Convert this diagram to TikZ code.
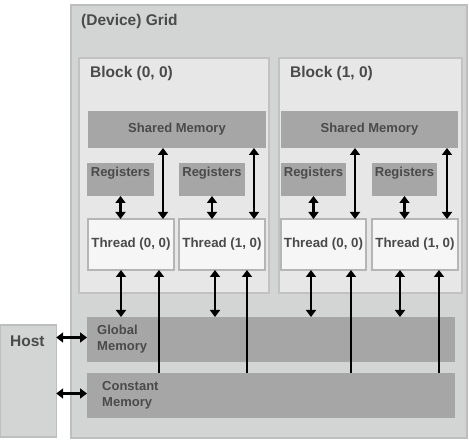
\documentclass[tikz,border=0pt]{standalone}
\usepackage{fontspec}
\setmainfont{Liberation Sans}
\usetikzlibrary{arrows.meta,calc}
\definecolor{gridfill}{HTML}{D3D5D5}
\definecolor{gridline}{HTML}{BDBFBF}
\definecolor{blockfill}{HTML}{E7E7E7}
\definecolor{blockline}{HTML}{C2C2C2}
\definecolor{memfill}{HTML}{A6A6A6}
\definecolor{thfill}{HTML}{F6F6F6}
\definecolor{thline}{HTML}{B5B5B5}
\definecolor{txt}{HTML}{4A4A4A}
\begin{document}
\begin{tikzpicture}[x=1pt,y=-1pt,
  box/.style={anchor=north west, inner sep=0pt, outer sep=0pt, line width=1.3pt},
  gridbox/.style={box, draw=gridline, fill=gridfill},
  blockbox/.style={box, draw=blockline, fill=blockfill},
  membox/.style={box, fill=memfill, text=txt, font=\bfseries\fontsize{13}{15}\selectfont},
  thbox/.style={box, draw=thline, fill=thfill, text=txt, font=\bfseries\fontsize{13.3}{15}\selectfont},
  big/.style={text=txt, font=\bfseries\fontsize{15.5}{18}\selectfont, inner sep=0pt},
  small/.style={text=txt, font=\bfseries\fontsize{13}{15}\selectfont, inner sep=0pt, align=left},
  dbl/.style={line width=2.6pt, {Triangle[width=10pt,length=7pt]}-{Triangle[width=10pt,length=7pt]}},
  up/.style={line width=2.6pt, -{Triangle[width=10pt,length=7pt]}}]
\useasboundingbox (0,0) rectangle (469,446);

% grid
\node[gridbox, minimum width=396pt, minimum height=433pt] (grid) at (71,5) {};
\node[big, anchor=west] (gridlbl) at (81,21) {(Device) Grid};

% blocks
\node[blockbox, minimum width=190pt, minimum height=235pt] (b0) at (79,58) {};
\node[blockbox, minimum width=183pt, minimum height=235pt] (b1) at (279,58) {};
\node[big, anchor=west] (b0lbl) at (90,73) {Block (0, 0)};
\node[big, anchor=west] (b1lbl) at (290,73) {Block (1, 0)};

% shared memory
\node[membox, minimum width=178pt, minimum height=37pt] (sm0) at (88,111) {};
\node[membox, minimum width=177pt, minimum height=37pt] (sm1) at (281,111) {};
\node[small, anchor=center] at ($(sm0.center)+(0,0)$) {Shared Memory};
\node[small, anchor=center] at ($(sm1.center)+(0,0)$) {Shared Memory};

% registers
\node[membox, minimum width=67pt, minimum height=33pt] (r00) at (87,163) {};
\node[membox, minimum width=66pt, minimum height=33pt] (r01) at (179,163) {};
\node[membox, minimum width=65pt, minimum height=33pt] (r10) at (281,163) {};
\node[membox, minimum width=65pt, minimum height=33pt] (r11) at (372,163) {};
\foreach \r in {r00,r01,r10,r11}
  \node[small, anchor=center] at ($(\r.north)+(0,10)$) {Registers};

% threads
\node[thbox, minimum width=86pt, minimum height=51pt] (t00) at (88,219) {Thread (0, 0)};
\node[thbox, minimum width=86pt, minimum height=51pt] (t01) at (179,219) {Thread (1, 0)};
\node[thbox, minimum width=85pt, minimum height=51pt] (t10) at (281,219) {Thread (0, 0)};
\node[thbox, minimum width=86pt, minimum height=51pt] (t11) at (372,219) {Thread (1, 0)};

% global / constant memory
\node[membox, minimum width=368pt, minimum height=45pt] (gm) at (87,317) {};
\node[membox, minimum width=368pt, minimum height=45pt] (cm) at (87,373) {};
\node[small, anchor=north west, align=left] (gmlbl) at (97,325) {Global\\[1pt]Memory};
\node[small, anchor=north west, align=left] (cmlbl) at (102,381) {Constant\\[1pt]Memory};

% host
\node[box, draw=gridline, fill=gridfill, minimum width=55.5pt, minimum height=112pt] (host) at (0.7,325) {};
\node[big, anchor=west] (hostlbl) at (10,341) {Host};

% registers <-> threads
\foreach \r/\t in {r00/t00,r01/t01,r10/t10,r11/t11}
  \draw[dbl] (\r.south) -- (\r.south |- \t.north);

% shared memory <-> threads
\foreach \s/\t in {sm0/t00,sm0/t01,sm1/t10,sm1/t11}
  \draw[dbl] ([xshift=-11pt]\t.north east |- \s.south) -- ([xshift=-11pt]\t.north east);

% threads <-> global memory
\foreach \t/\o in {t00/33,t01/36,t10/30,t11/28}
  \draw[dbl] ([xshift=\o pt]\t.south west) -- ([xshift=\o pt]\t.south west |- gm.north);

% constant memory -> threads
\foreach \t/\o in {t00/15,t01/18,t10/15,t11/19}
  \draw[up] ([xshift=-\o pt]\t.south east |- cm.north) -- ([xshift=-\o pt]\t.south east);

% host <-> memories
\draw[dbl] ([yshift=2pt]host.east |- gm.west) -- ([yshift=2pt]gm.west);
\draw[dbl] ([yshift=2pt]host.east |- cm.west) -- ([yshift=2pt]cm.west);
\end{tikzpicture}
\end{document}
